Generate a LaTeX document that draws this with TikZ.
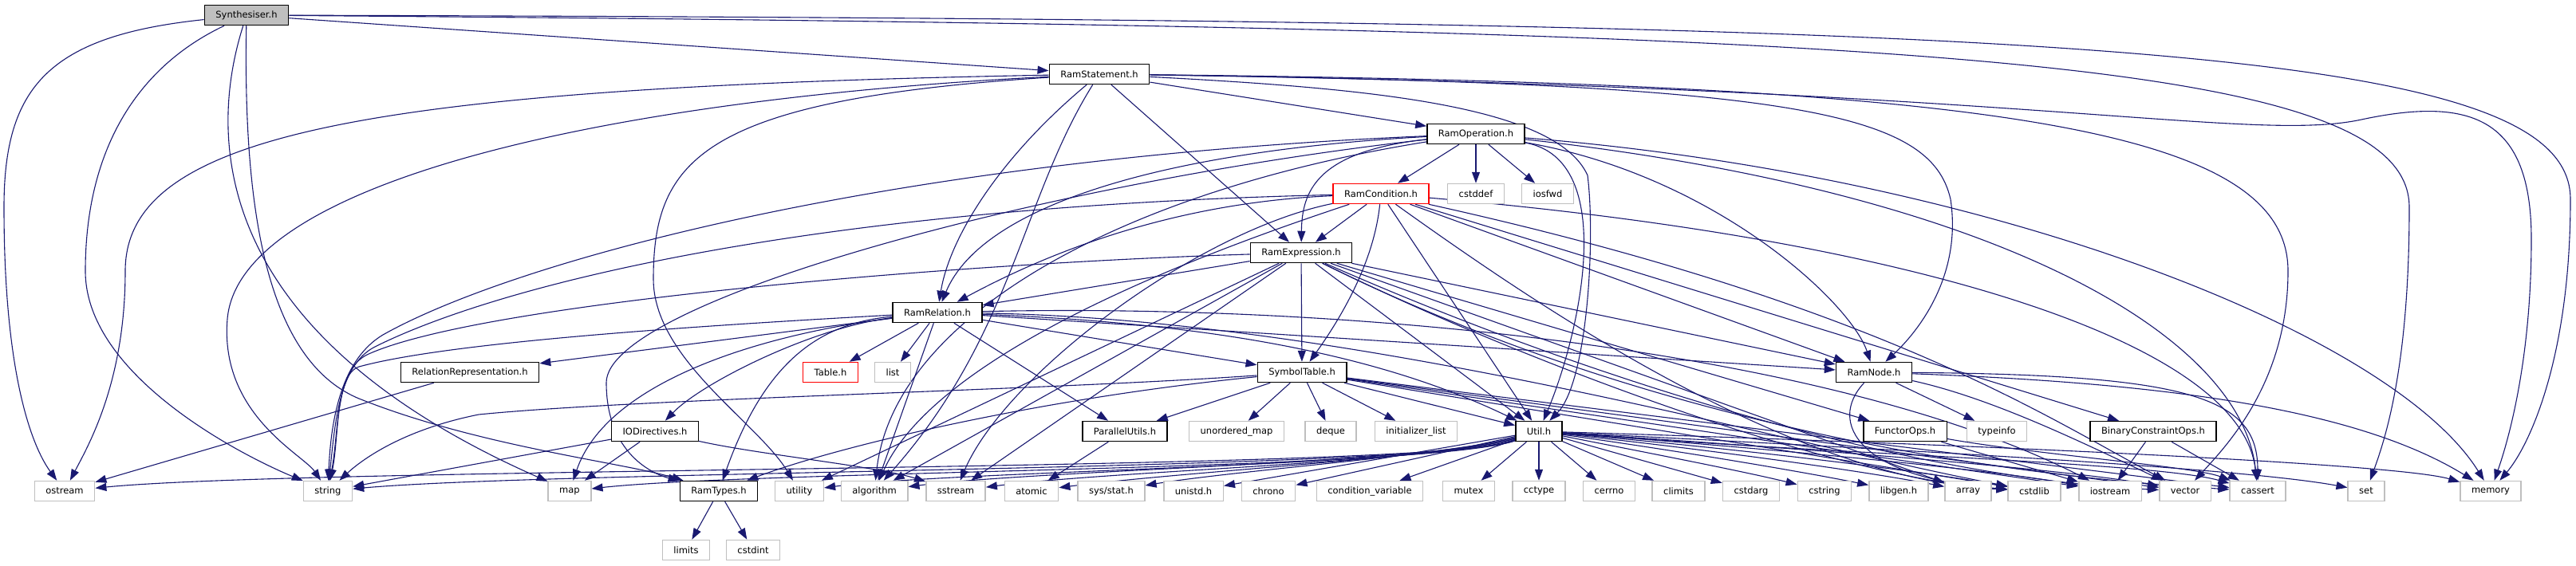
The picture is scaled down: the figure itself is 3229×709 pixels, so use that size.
\documentclass[tikz,border=0pt]{standalone}
\usepackage{fontspec}
\setmainfont{DejaVu Sans}
\usepackage{xcolor}
\usepackage{tikz}
\usetikzlibrary{arrows.meta,backgrounds}

\definecolor{depblue}{HTML}{191970}
\definecolor{sysgray}{HTML}{BFBFBF}

\begin{document}
\begin{tikzpicture}[
  x=0.5pt, y=-0.5pt,
  hdr/.style={draw=black, fill=white, line width=0.75pt, font=\fontsize{5.75}{7}\selectfont, minimum height=12.5pt, inner xsep=7pt, inner ysep=0pt},
  sys/.style={hdr, draw=sysgray},
  broken/.style={hdr, draw=red},
  focus/.style={hdr, fill=sysgray},
  dep/.style={-{Triangle[length=7pt, width=5pt]}, draw=depblue, line width=0.55pt}
]
\useasboundingbox (0,0) rectangle (3229,709);

% project headers
\node[focus] (synth) at (309,19) {Synthesiser.h};
\node[hdr] (stmt) at (1378,93) {RamStatement.h};
\node[hdr] (op) at (1850,168) {RamOperation.h};
\node[broken] (cond) at (1731,243) {RamCondition.h};
\node[sys] (cstddef) at (1850,243) {cstddef};
\node[sys] (iosfwd) at (1940,243) {iosfwd};
\node[hdr] (expr) at (1631,317) {RamExpression.h};
\node[hdr] (rel) at (1175,392) {RamRelation.h};
\node[hdr] (relrep) at (589,467) {RelationRepresentation.h};
\node[broken] (tbl) at (1041,467) {Table.h};
\node[sys] (lst) at (1119,467) {list};
\node[hdr] (symtab) at (1632,467) {SymbolTable.h};
\node[hdr] (ramnode) at (2349,467) {RamNode.h};
\node[hdr] (iodir) at (821,541) {IODirectives.h};
\node[hdr] (par) at (1410,541) {ParallelUtils.h};
\node[sys] (umap) at (1550,541) {unordered\_map};
\node[sys] (deque) at (1668,541) {deque};
\node[sys] (initl) at (1775,541) {initializer\_list};
\node[hdr] (util) at (1929,541) {Util.h};
\node[hdr] (functor) at (2388,541) {FunctorOps.h};
\node[sys] (typeinfo) at (2503,541) {typeinfo};
\node[hdr] (binops) at (2699,541) {BinaryConstraintOps.h};

% bottom row
\node[sys] (ostream) at (81,616) {ostream};
\node[sys] (string) at (411,616) {string};
\node[sys] (map) at (714,616) {map};
\node[hdr] (ramtypes) at (901,616) {RamTypes.h};
\node[sys] (utility) at (1002,616) {utility};
\node[sys] (algorithm) at (1096,616) {algorithm};
\node[sys] (sstream) at (1198,616) {sstream};
\node[sys] (atomic) at (1293,616) {atomic};
\node[sys] (sysstat) at (1393,616) {sys/stat.h};
\node[sys] (unistd) at (1496,616) {unistd.h};
\node[sys] (chrono) at (1590,616) {chrono};
\node[sys] (condvar) at (1717,616) {condition\_variable};
\node[sys] (mutex) at (1841,616) {mutex};
\node[sys] (cctype) at (1929,616) {cctype};
\node[sys] (cerrno) at (2017,616) {cerrno};
\node[sys] (climits) at (2104,616) {climits};
\node[sys] (cstdarg) at (2195,616) {cstdarg};
\node[sys] (cstring) at (2287,616) {cstring};
\node[sys] (libgen) at (2380,616) {libgen.h};
\node[sys] (array) at (2467,616) {array};
\node[sys] (cstdlib) at (2550,616) {cstdlib};
\node[sys] (iostream) at (2645,616) {iostream};
\node[sys] (vector) at (2739,616) {vector};
\node[sys] (cassert) at (2830,616) {cassert};
\node[sys] (set) at (2966,616) {set};
\node[sys] (memory) at (3122,616) {memory};
\node[sys] (limits) at (860,690) {limits};
\node[sys] (cstdint) at (944,690) {cstdint};

\begin{scope}[on background layer]
% Synthesiser.h
\draw[dep] (synth) -- (stmt);
\draw[dep] (synth) .. controls (60,45) and (5,110) .. (5,260) .. controls (5,470) and (40,560) .. (ostream);
\draw[dep] (synth) .. controls (170,85) and (107,190) .. (107,340) .. controls (107,470) and (300,570) .. (string);
\draw[dep] (synth) .. controls (258,180) and (270,420) .. (map);
\draw[dep] (synth) .. controls (305,250) and (330,450) .. (450,500) .. controls (600,560) and (780,580) .. (ramtypes);
\draw[dep] (synth) .. controls (2400,35) and (3020,70) .. (3020,260) .. controls (3020,460) and (2990,550) .. (set);
\draw[dep] (synth) .. controls (2600,25) and (3222,55) .. (3222,250) .. controls (3222,450) and (3170,560) .. (memory);
% RamStatement.h
\draw[dep] (stmt) -- (op);
\draw[dep] (stmt) -- (expr);
\draw[dep] (stmt) .. controls (1250,200) and (1190,300) .. (rel);
\draw[dep] (stmt) .. controls (1280,250) and (1270,420) .. (algorithm);
\draw[dep] (stmt) .. controls (450,110) and (157,170) .. (157,340) .. controls (157,480) and (110,560) .. (ostream);
\draw[dep] (stmt) .. controls (750,125) and (300,230) .. (285,400) .. controls (275,520) and (380,570) .. (string);
\draw[dep] (stmt) .. controls (880,125) and (819,200) .. (819,350) .. controls (819,450) and (950,530) .. (utility);
\draw[dep] (stmt) .. controls (1700,110) and (1950,130) .. (1990,220) .. controls (2000,300) and (1990,480) .. (util);
\draw[dep] (stmt) .. controls (2250,105) and (2420,140) .. (2445,250) .. controls (2460,350) and (2400,420) .. (ramnode);
\draw[dep] (stmt) .. controls (2500,105) and (2868,160) .. (2868,340) .. controls (2868,480) and (2790,560) .. (vector);
\draw[dep] (stmt) .. controls (2550,110) and (2820,180) .. (2960,150) .. controls (3100,120) and (3173,150) .. (3173,300) .. controls (3173,450) and (3145,550) .. (memory);
% RamOperation.h
\draw[dep] (op) -- (cond);
\draw[dep] (op) -- (cstddef);
\draw[dep] (op) -- (iosfwd);
\draw[dep] (op) .. controls (1650,190) and (1632,240) .. (expr);
\draw[dep] (op) .. controls (1450,190) and (1230,260) .. (rel);
\draw[dep] (op) .. controls (1100,200) and (640,330) .. (480,420) .. controls (430,450) and (415,520) .. (string);
\draw[dep] (op) .. controls (1300,230) and (760,380) .. (760,480) .. controls (760,570) and (820,595) .. (ramtypes);
\draw[dep] (op) .. controls (1400,240) and (1120,400) .. (algorithm);
\draw[dep] (op) .. controls (2150,220) and (2320,380) .. (ramnode);
\draw[dep] (op) .. controls (2030,200) and (1980,420) .. (util);
\draw[dep] (op) .. controls (2500,240) and (2810,420) .. (cassert);
\draw[dep] (op) .. controls (2500,220) and (3000,420) .. (memory);
% RamCondition.h
\draw[dep] (cond) -- (expr);
\draw[dep] (cond) .. controls (1450,255) and (1290,330) .. (rel);
\draw[dep] (cond) .. controls (1000,260) and (620,360) .. (470,435) .. controls (425,458) and (420,530) .. (string);
\draw[dep] (cond) .. controls (1722,330) and (1680,400) .. (symtab);
\draw[dep] (cond) -- (ramnode);
\draw[dep] (cond) -- (binops);
\draw[dep] (cond) -- (util);
\draw[dep] (cond) .. controls (1560,300) and (1180,430) .. (algorithm);
\draw[dep] (cond) .. controls (1500,290) and (1260,470) .. (sstream);
\draw[dep] (cond) .. controls (1950,400) and (2250,600) .. (cstdlib);
\draw[dep] (cond) .. controls (2350,380) and (2560,520) .. (vector);
\draw[dep] (cond) .. controls (2400,300) and (2810,430) .. (cassert);
% RamExpression.h
\draw[dep] (expr) -- (rel);
\draw[dep] (expr) -- (symtab);
\draw[dep] (expr) -- (ramnode);
\draw[dep] (expr) -- (functor);
\draw[dep] (expr) -- (util);
\draw[dep] (expr) .. controls (1200,330) and (600,380) .. (460,445) .. controls (420,465) and (425,540) .. (string);
\draw[dep] (expr) -- (utility);
\draw[dep] (expr) -- (algorithm);
\draw[dep] (expr) -- (sstream);
\draw[dep] (expr) -- (array);
\draw[dep] (expr) .. controls (1900,450) and (2300,600) .. (cstdlib);
\draw[dep] (expr) .. controls (2000,500) and (2400,590) .. (cassert);
\draw[dep] (expr) .. controls (2000,480) and (2400,600) .. (vector);
% RamRelation.h
\draw[dep] (rel) -- (relrep);
\draw[dep] (rel) .. controls (1020,410) and (880,480) .. (iodir);
\draw[dep] (rel) -- (tbl);
\draw[dep] (rel) -- (lst);
\draw[dep] (rel) -- (symtab);
\draw[dep] (rel) -- (par);
\draw[dep] (rel) .. controls (1500,405) and (1720,440) .. (util);
\draw[dep] (rel) -- (ramnode);
\draw[dep] (rel) .. controls (1030,405) and (960,450) .. (ramtypes);
\draw[dep] (rel) .. controls (850,410) and (560,430) .. (450,460) .. controls (420,470) and (425,550) .. (string);
\draw[dep] (rel) .. controls (950,420) and (760,480) .. (map);
\draw[dep] (rel) -- (algorithm);
\draw[dep] (rel) .. controls (1700,380) and (2300,440) .. (iostream);
\draw[dep] (rel) .. controls (1700,400) and (2250,560) .. (cstdlib);
% smaller headers
\draw[dep] (relrep) -- (ostream);
\draw[dep] (iodir) -- (string);
\draw[dep] (iodir) -- (map);
\draw[dep] (iodir) .. controls (950,570) and (1100,585) .. (sstream);
\draw[dep] (ramtypes) -- (limits);
\draw[dep] (ramtypes) -- (cstdint);
\draw[dep] (par) -- (atomic);
% SymbolTable.h
\draw[dep] (symtab) -- (par);
\draw[dep] (symtab) -- (umap);
\draw[dep] (symtab) -- (deque);
\draw[dep] (symtab) -- (initl);
\draw[dep] (symtab) -- (util);
\draw[dep] (symtab) .. controls (1300,490) and (800,500) .. (600,520) .. controls (500,540) and (450,580) .. (string);
\draw[dep] (symtab) .. controls (1300,500) and (1050,560) .. (ramtypes);
\draw[dep] (symtab) -- (iostream);
\draw[dep] (symtab) -- (vector);
\draw[dep] (symtab) -- (cassert);
\draw[dep] (symtab) -- (cstdlib);
% Util.h
\draw[dep] (util) .. controls (1800,592) and (400,585) .. (ostream);
\draw[dep] (util) .. controls (1800,590) and (700,590) .. (string);
\draw[dep] (util) .. controls (1800,590) and (950,590) .. (map);
\draw[dep] (util) .. controls (1800,585) and (1200,590) .. (utility);
\draw[dep] (util) .. controls (1800,580) and (1300,590) .. (algorithm);
\draw[dep] (util) .. controls (1800,580) and (1400,590) .. (sstream);
\draw[dep] (util) .. controls (1800,575) and (1500,590) .. (atomic);
\draw[dep] (util) .. controls (1820,570) and (1550,590) .. (sysstat);
\draw[dep] (util) -- (unistd);
\draw[dep] (util) -- (chrono);
\draw[dep] (util) -- (condvar);
\draw[dep] (util) -- (mutex);
\draw[dep] (util) -- (cctype);
\draw[dep] (util) -- (cerrno);
\draw[dep] (util) -- (climits);
\draw[dep] (util) -- (cstdarg);
\draw[dep] (util) .. controls (2050,565) and (2180,590) .. (cstring);
\draw[dep] (util) .. controls (2100,565) and (2250,590) .. (libgen);
\draw[dep] (util) .. controls (2150,565) and (2330,590) .. (array);
\draw[dep] (util) .. controls (2200,565) and (2400,590) .. (cstdlib);
\draw[dep] (util) .. controls (2250,565) and (2500,590) .. (iostream);
\draw[dep] (util) .. controls (2300,565) and (2600,590) .. (vector);
\draw[dep] (util) .. controls (2300,570) and (2700,580) .. (cassert);
\draw[dep] (util) .. controls (2300,560) and (2800,585) .. (set);
\draw[dep] (util) .. controls (2400,555) and (3000,580) .. (memory);
% RamNode.h
\draw[dep] (ramnode) -- (typeinfo);
\draw[dep] (ramnode) .. controls (2290,530) and (2330,600) .. (cstdlib);
\draw[dep] (ramnode) .. controls (2500,500) and (2620,560) .. (vector);
\draw[dep] (ramnode) .. controls (2750,470) and (2830,500) .. (cassert);
\draw[dep] (ramnode) .. controls (2700,480) and (2950,510) .. (memory);
% operator headers
\draw[dep] (functor) -- (iostream);
\draw[dep] (functor) .. controls (2550,570) and (2750,585) .. (cassert);
\draw[dep] (binops) -- (iostream);
\draw[dep] (binops) -- (cassert);
\end{scope}
\end{tikzpicture}
\end{document}
